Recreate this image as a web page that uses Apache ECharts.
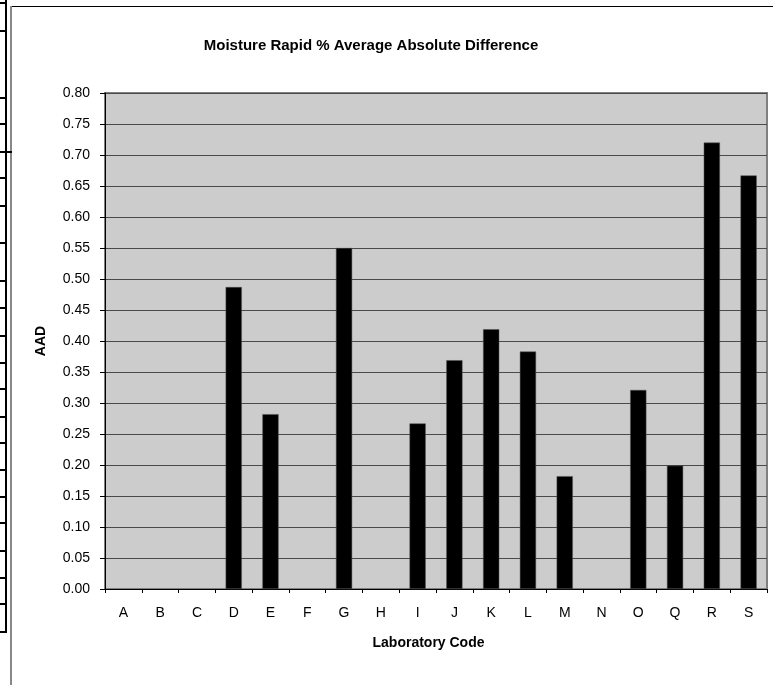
<!DOCTYPE html>
<html>
<head>
<meta charset="utf-8">
<script src="https://cdn.jsdelivr.net/npm/echarts@6/dist/echarts.min.js"></script>
<style>
html,body{margin:0;padding:0;background:#fff;}
#chart{width:773px;height:685px;}
</style>
</head>
<body>
<div id="chart"></div>
<script>
var categories = ['A','B','C','D','E','F','G','H','I','J','K','L','M','N','O','Q','R','S'];
var aadValues = [null,null,null,0.487,0.282,null,0.550,null,0.267,0.369,0.419,0.383,0.182,null,0.321,0.199,0.720,0.667];
var yTicks = {min:0, max:0.8, interval:0.05};
var sheetRowTicks = [3,31,98,124,152,178,206,243,281,308,336,363,389,417,443,470,497,523,551,578,604,632];

var chart = echarts.init(document.getElementById('chart'));
var font = '"Liberation Sans", Arial, sans-serif';

var graphics = [
  {type:'line', shape:{x1:11,y1:6.5,x2:773,y2:6.5}, style:{stroke:'#000',lineWidth:1}, silent:true},
  {type:'line', shape:{x1:11,y1:6,x2:11,y2:685}, style:{stroke:'#888',lineWidth:2}, silent:true},
  {type:'line', shape:{x1:6,y1:0,x2:6,y2:632}, style:{stroke:'#000',lineWidth:2}, silent:true}
];
sheetRowTicks.forEach(function(y){
  graphics.push({type:'line', shape:{x1:0,y1:y,x2:(y===152?12:7),y2:y}, style:{stroke:'#000',lineWidth:2}, silent:true});
});

chart.setOption({
  animation:false,
  backgroundColor:'#fff',
  title:{
    text:'Moisture Rapid % Average Absolute Difference',
    left:366, top:33, textAlign:'center',
    textStyle:{fontFamily:font, fontSize:15, fontWeight:'bold', color:'#000'}
  },
  graphic:graphics,
  grid:{left:105, right:6, top:93, bottom:96, show:true, backgroundColor:'#cccccc', borderColor:'#808080', borderWidth:2},
  xAxis:{
    type:'category', data:categories,
    name:'Laboratory Code', nameLocation:'middle', nameGap:47,
    nameTextStyle:{fontFamily:font, fontSize:14, fontWeight:'bold', color:'#000', padding:[0,15,0,0]},
    axisLine:{lineStyle:{color:'#000', width:1}},
    axisTick:{show:true, length:4, lineStyle:{color:'#000'}},
    axisLabel:{fontFamily:font, fontSize:14, color:'#000', margin:17},
    splitLine:{show:false}
  },
  yAxis:{
    type:'value', min:yTicks.min, max:yTicks.max, interval:yTicks.interval,
    name:'AAD', nameLocation:'middle', nameGap:57,
    nameTextStyle:{fontFamily:font, fontSize:14, fontWeight:'bold', color:'#000'},
    axisLine:{show:true, lineStyle:{color:'#000', width:1}},
    axisTick:{show:true, length:5, lineStyle:{color:'#000'}},
    axisLabel:{fontFamily:font, fontSize:14, color:'#000', margin:15, formatter:function(v){return v.toFixed(2);}},
    splitLine:{show:true, lineStyle:{color:'#4a4a4a', width:1}}
  },
  series:[{
    type:'bar', data:aadValues, barWidth:'44%',
    itemStyle:{color:'#000', borderColor:'#555', borderWidth:0.5}
  }]
});
</script>
</body>
</html>
